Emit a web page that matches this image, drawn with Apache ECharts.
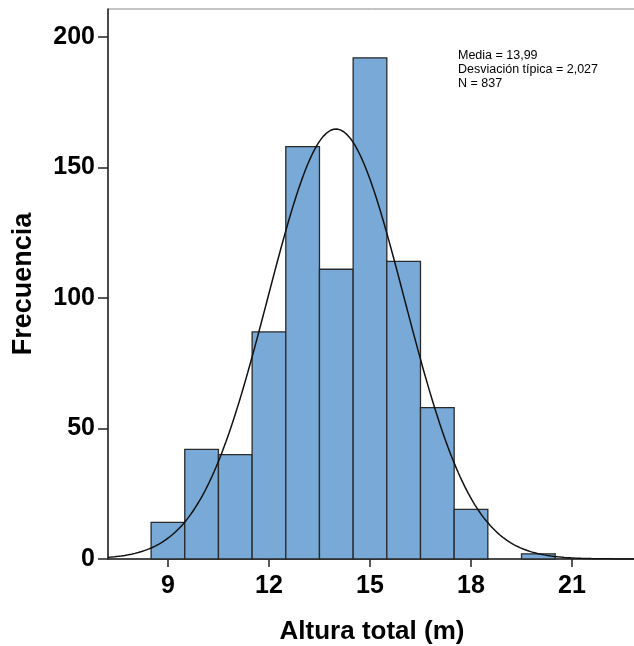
<!DOCTYPE html>
<html>
<head>
<meta charset="utf-8">
<script src="https://cdn.jsdelivr.net/npm/echarts@6/dist/echarts.min.js"></script>
<style>html,body{margin:0;padding:0;background:#fff}#c{width:634px;height:646px}</style>
</head>
<body>
<div id="c"></div>
<script>
// Histogram data (bin centers, bin width 1)
const binCenters = [9, 10, 11, 12, 13, 14, 15, 16, 17, 18, 19, 20];
const counts = [14, 42, 40, 87, 158, 111, 192, 114, 58, 19, 0, 2];
const binWidth = 1;
// Fitted normal curve parameters (from the annotation)
const mean = 13.99;
const sd = 2.027;
const n = 837;
const xTicks = [9, 12, 15, 18, 21];
const yTicks = [0, 50, 100, 150, 200];
const statsLines = ['Media = 13,99', 'Desviación típica = 2,027', 'N = 837'];

const xMin = 7.22, xMax = 22.9;
const curve = [];
for (let x = xMin; x <= xMax + 1e-9; x += 0.05) {
  const z = (x - mean) / sd;
  curve.push([x, n * binWidth / (sd * Math.sqrt(2 * Math.PI)) * Math.exp(-0.5 * z * z)]);
}
const barData = binCenters.map((c, i) => [c, counts[i]]);

const font = '"Liberation Sans", Arial, sans-serif';
const chart = echarts.init(document.getElementById('c'), null, {renderer: 'canvas'});
chart.setOption({
  animation: false,
  grid: {left: 108, top: 9, right: -2, bottom: 87, outerBoundsMode: 'none', containLabel: false,
    show: true, borderColor: '#888', borderWidth: 1, backgroundColor: 'transparent'},
  xAxis: {
    type: 'value', min: xMin, max: xMax,
    name: 'Altura total (m)', nameLocation: 'middle', nameGap: 60,
    nameTextStyle: {fontFamily: font, fontWeight: 'bold', fontSize: 26, color: '#000'},
    axisLine: {show: true, lineStyle: {color: '#222', width: 1.5}},
    axisTick: {show: true, length: 8, lineStyle: {color: '#222', width: 1.5}, customValues: xTicks},
    axisLabel: {fontFamily: font, fontWeight: 'bold', fontSize: 25, color: '#000', margin: 15, customValues: xTicks},
    splitLine: {show: false}
  },
  yAxis: {
    type: 'value', min: 0, max: 210.7,
    name: 'Frecuencia', nameLocation: 'middle', nameGap: 71,
    nameTextStyle: {fontFamily: font, fontWeight: 'bold', fontSize: 27, color: '#000'},
    axisLine: {show: true, lineStyle: {color: '#222', width: 1.5}},
    axisTick: {show: true, length: 10, lineStyle: {color: '#222', width: 1.5}, customValues: yTicks},
    axisLabel: {fontFamily: font, fontWeight: 'bold', fontSize: 25, color: '#000', margin: 13, customValues: yTicks},
    splitLine: {show: false}
  },
  graphic: [{
    type: 'text', left: 458, top: 49,
    style: {text: statsLines.join('\n'), font: '12.5px ' + font, fill: '#000', lineHeight: 14}
  }],
  series: [{
    type: 'custom',
    data: barData,
    renderItem: function (params, api) {
      const c = api.value(0), v = api.value(1);
      if (!v) return null;
      const p0 = api.coord([c - binWidth / 2, v]);
      const p1 = api.coord([c + binWidth / 2, 0]);
      return {type: 'rect', shape: {x: p0[0], y: p0[1], width: p1[0] - p0[0], height: p1[1] - p0[1]},
        style: {fill: '#79a9d6', stroke: '#2a2a2a', lineWidth: 1.3}};
    },
    z: 2
  }, {
    type: 'line', data: curve, showSymbol: false, smooth: false,
    lineStyle: {color: '#111', width: 1.5}, z: 3
  }]
});
</script>
</body>
</html>
